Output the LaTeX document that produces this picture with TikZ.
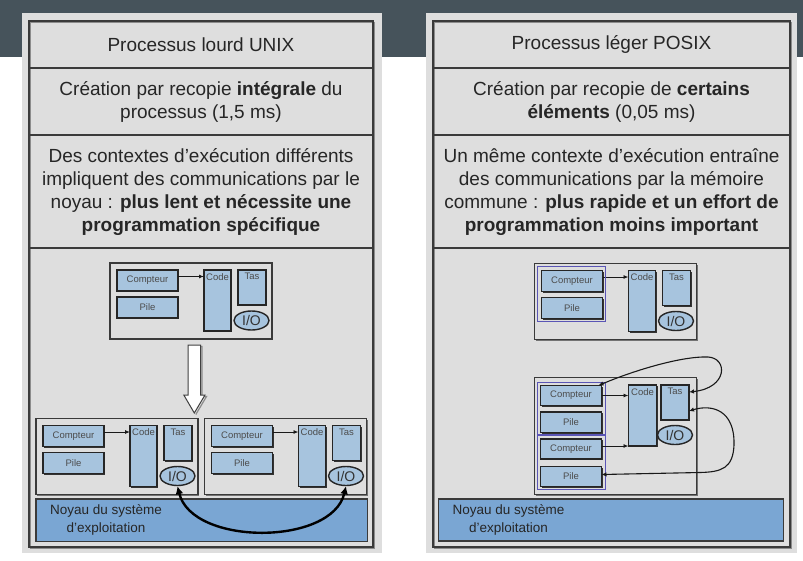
\documentclass[tikz,border=0pt]{standalone}
\usepackage{fontspec}
\setmainfont{Liberation Sans}
\usetikzlibrary{arrows.meta,shapes.geometric,shadows}
\definecolor{band}{HTML}{46535B}
\definecolor{panel}{HTML}{DEDEDE}
\definecolor{lblue}{HTML}{A7C4DE}
\definecolor{kblue}{HTML}{7AA6D3}
\definecolor{frame}{HTML}{3A3A3A}
\definecolor{purp}{HTML}{5A55B5}
\tikzset{
  frameline/.style={draw=frame,line width=1.5pt},
  framebox/.style={draw=frame,line width=1.6pt},
  txt/.style={align=center,inner sep=0pt,text=black!85,font=\fontsize{19}{23}\selectfont},
  procbox/.style={draw=frame,line width=1.3pt,fill=panel,anchor=north west,inner sep=0pt,outer sep=0pt,
    drop shadow={shadow xshift=1.2pt,shadow yshift=-1.2pt,fill=black!55,opacity=1}},
  mem/.style={draw=black!85,line width=1.4pt,fill=lblue,anchor=north west,inner sep=0pt,outer sep=0pt,
    text=black!70,font=\fontsize{9.5}{10}\selectfont,
    drop shadow={shadow xshift=1pt,shadow yshift=-1.2pt,fill=black!80,opacity=1}},
  lab/.style={anchor=north,inner sep=0pt,yshift=-3pt,text=black!70,font=\fontsize{9.5}{10}\selectfont},
  iobox/.style={ellipse,draw=black!85,line width=1.4pt,fill=lblue,minimum width=35pt,minimum height=19pt,
    inner sep=0pt,text=black!80,font=\fontsize{14}{14}\selectfont},
  kernel/.style={draw=frame,line width=1.2pt,fill=kblue,anchor=north west,inner sep=0pt,outer sep=0pt},
  kerntxt/.style={anchor=center,align=center,inner sep=0pt,text=black!85,font=\fontsize{13.5}{18}\selectfont},
  thin/.style={draw=black!90,line width=0.9pt,-{Latex[length=5pt,width=4pt]}},
  thinboth/.style={draw=black!90,line width=1.1pt,{Latex[length=5pt,width=4.5pt]}-{Latex[length=5pt,width=4.5pt]}},
  thick/.style={draw=black,line width=2.4pt,{Latex[length=8pt,width=8pt]}-{Latex[length=8pt,width=8pt]}},
  grp/.style={draw=purp,line width=0.9pt}
}
\newcommand{\procunit}[3]{%
  \node[procbox,minimum width=162pt,minimum height=76pt] (#1box) at (#2,#3) {};
  \node[mem,minimum width=61pt,minimum height=21pt] (#1comp) at (#2+7,#3+7) {Compteur};
  \node[mem,minimum width=61pt,minimum height=21pt] (#1pile) at (#2+7,#3+34) {Pile};
  \node[mem,minimum width=27pt,minimum height=61pt,label={[lab]north:Code}] (#1code) at (#2+94,#3+7) {};
  \node[mem,minimum width=28pt,minimum height=35pt,label={[lab]north:Tas}] (#1tas) at (#2+128,#3+7) {};
  \node[iobox] (#1io) at (#2+141.5,#3+57.5) {I/O};
  \draw[thin] ([yshift=4pt]#1comp.east) -- ([yshift=4pt]#1comp.east -| #1code.west);
}
\begin{document}
\begin{tikzpicture}[x=1pt,y=-1pt]
\useasboundingbox (0,0) rectangle (803,560);
\fill[white] (0,0) rectangle (803,560);
\fill[band] (0,0) rectangle (803,57);
\fill[panel] (22,13) rectangle (382,553);
\fill[panel] (426,13) rectangle (797,553);
\draw[draw=black!45,line width=1.2pt] (30.5,22.5) rectangle (374.5,548.5);
\draw[draw=black!45,line width=1.2pt] (434.5,22.5) rectangle (791.5,548.5);
\draw[framebox] (29,21) rectangle (373,547);
\draw[framebox] (433,21) rectangle (790,547);
\foreach \yy in {68,135,248}{
  \draw[frameline] (29,\yy) -- (373,\yy);
  \draw[frameline] (433,\yy) -- (790,\yy);
}
% texts
\node[txt] (lhead) at (201,44.5) {Processus lourd UNIX};
\node[txt] (rhead) at (611.5,44.5) {Processus léger POSIX};
\node[txt] (lcrea) at (201,102) {Création par recopie \textbf{intégrale} du\\processus (1,5 ms)};
\node[txt] (rcrea) at (611.5,102) {Création par recopie de \textbf{certains}\\\textbf{éléments} (0,05 ms)};
\node[txt] (ldesc) at (201,192) {Des contextes d’exécution différents\\impliquent des communications par le\\noyau : \textbf{plus lent et nécessite une}\\\textbf{programmation spécifique}};
\node[txt] (rdesc) at (611.5,192) {Un même contexte d’exécution entraîne\\des communications par la mémoire\\commune : \textbf{plus rapide et un effort de}\\\textbf{programmation moins important}};
% left diagram
\procunit{lt}{110}{263}
\procunit{lba}{36}{418.5}
\procunit{lbb}{204.5}{418.5}
\node[kernel,minimum width=331.5pt,minimum height=42.5pt] (lk) at (36,499) {};
\node[kerntxt] (lktxt) at (106,520) {Noyau du système\\d’exploitation};
\draw[draw=black!45,line width=1.2pt]
  (189.5,346.5) -- (202,346.5) -- (202,396.5) -- (206.5,396.5) -- (195.8,414.5);
\draw[draw=black!75,line width=1pt,fill=white]
  (188,345) -- (200.5,345) -- (200.5,395) -- (205,395) -- (194.3,413) -- (183.8,395) -- (188,395) -- cycle;
\draw[thick] (lbaio.south) .. controls (192,546) and (332,546) .. (lbbio.south);
% right diagram
\procunit{rt}{534.5}{263.5}
\draw[grp] (537.3,266) rectangle (605.3,321.5);
\node[procbox,minimum width=162pt,minimum height=117pt] (rbox) at (534.5,377.5) {};
\draw[grp] (537.3,382.7) rectangle (605.3,434);
\draw[grp] (537.3,435.5) rectangle (605.3,489.3);
\node[mem,minimum width=61pt,minimum height=20pt] (rc1) at (540.5,385.5) {Compteur};
\node[mem,minimum width=61pt,minimum height=20.5pt] (rp1) at (540.5,412) {Pile};
\node[mem,minimum width=61pt,minimum height=20pt] (rc2) at (540.5,439) {Compteur};
\node[mem,minimum width=61pt,minimum height=20pt] (rp2) at (540.5,466.5) {Pile};
\node[mem,minimum width=28pt,minimum height=61pt,label={[lab]north:Code}] (rcode) at (628.5,385) {};
\node[mem,minimum width=28pt,minimum height=35pt,label={[lab]north:Tas}] (rtas) at (661,385) {};
\node[iobox] (rio) at (675,435) {I/O};
\draw[thin] (rc1.east) -- (rc1.east -| rcode.west);
\draw[thin] ([yshift=3pt]rc2.east) -- ([yshift=3pt]rc2.east -| rcode.west);
\draw[thinboth] ([xshift=-3pt]rc1.north east) .. controls (630,372) and (680,356) .. (708,357)
  .. controls (728,358) and (728,388) .. ([yshift=-7pt]rtas.north east);
\draw[thinboth] ([yshift=9pt]rtas.south east) .. controls (712,404) and (735,410) .. (734,445)
  .. controls (733,468) and (722,472) .. (700,472.5) -- ([yshift=2pt]rp2.east);
\node[kernel,minimum width=345pt,minimum height=42pt] (rk) at (438.5,499) {};
\node[kerntxt] (rktxt) at (508.5,520) {Noyau du système\\d’exploitation};
\end{tikzpicture}
\end{document}
